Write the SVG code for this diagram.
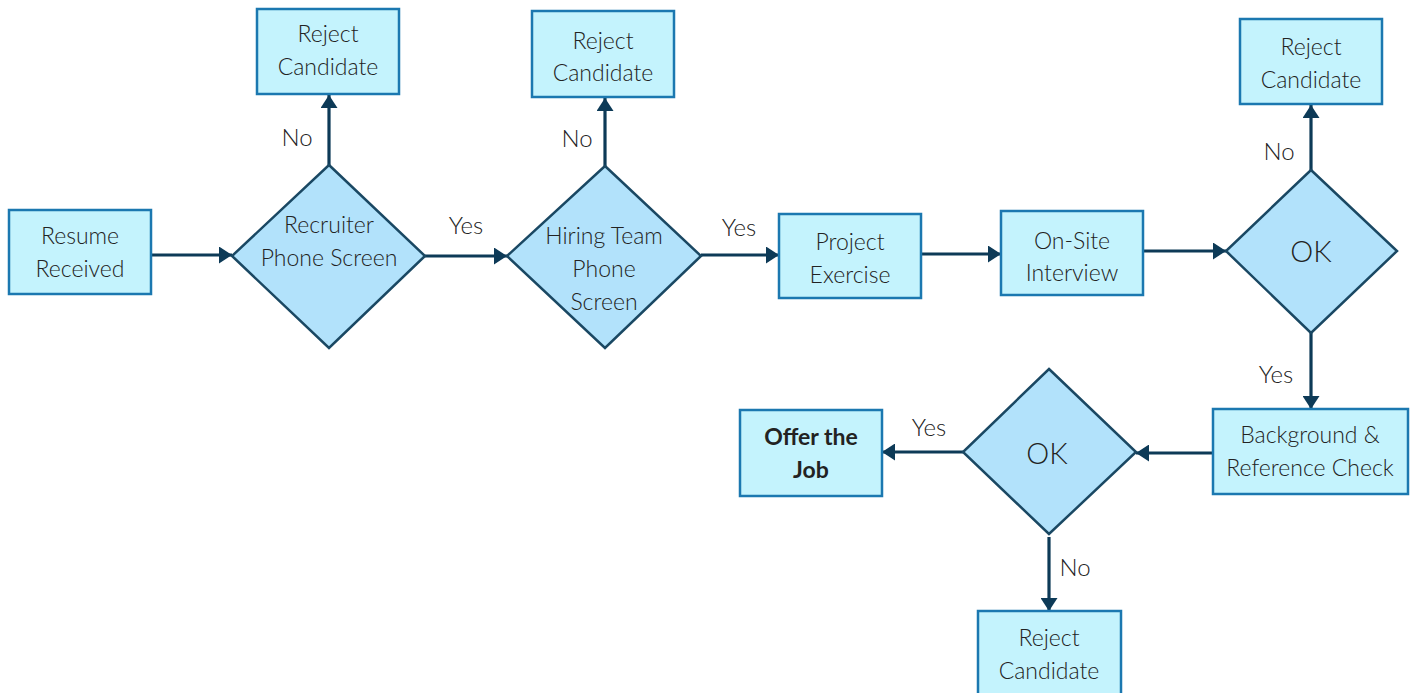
<svg xmlns="http://www.w3.org/2000/svg" width="1410" height="693" viewBox="0 0 1410 693">
  <defs>
    <marker id="arrow" viewBox="0 0 13 17" refX="13" refY="8.5" markerWidth="13" markerHeight="17" markerUnits="userSpaceOnUse" orient="auto">
      <path d="M0,0 L13,8.5 L0,17 Z" fill="#0d3a57"/>
    </marker>
    <style>
      .box { fill: #c4f3fd; stroke: #1b78b0; stroke-width: 2.5; }
      .dia { fill: #b2e2fb; stroke: #1a4863; stroke-width: 2.5; }
      .t { font-family: Lato, "Open Sans", sans-serif; font-weight: 300; font-size: 23px; fill: #222; text-anchor: middle; dominant-baseline: central; }
      .big { font-size: 29px; }
      .bold { font-weight: bold; }
      .lbl { font-family: Lato, "Open Sans", sans-serif; font-weight: 300; font-size: 24px; fill: #222; text-anchor: middle; dominant-baseline: central; }
      .edge { stroke: #0d3a57; stroke-width: 3.2; fill: none; marker-end: url(#arrow); }
    </style>
  </defs>

  <!-- connectors -->
  <g id="connectors">
    <line class="edge" x1="151" y1="255" x2="232" y2="255"/>
    <line class="edge" x1="329" y1="165" x2="329" y2="95"/>
    <line class="edge" x1="425" y1="256" x2="507" y2="256"/>
    <line class="edge" x1="605" y1="166" x2="605" y2="98"/>
    <line class="edge" x1="701" y1="255" x2="779" y2="255"/>
    <line class="edge" x1="921" y1="254" x2="1001" y2="254"/>
    <line class="edge" x1="1143" y1="251" x2="1226" y2="251"/>
    <line class="edge" x1="1311" y1="170" x2="1311" y2="105"/>
    <line class="edge" x1="1311" y1="333" x2="1311" y2="409"/>
    <line class="edge" x1="1213" y1="453" x2="1136" y2="453"/>
    <line class="edge" x1="963" y1="452" x2="882" y2="452"/>
    <line class="edge" x1="1049" y1="537" x2="1049" y2="611"/>
    <text class="lbl" x="297" y="136">No</text>
    <text class="lbl" x="466" y="224">Yes</text>
    <text class="lbl" x="577" y="137">No</text>
    <text class="lbl" x="739" y="226">Yes</text>
    <text class="lbl" x="1279" y="150">No</text>
    <text class="lbl" x="1276" y="373">Yes</text>
    <text class="lbl" x="929" y="426">Yes</text>
    <text class="lbl" x="1075" y="566">No</text>
  </g>

  <g id="resume">
    <rect class="box" x="9" y="210" width="142" height="84"/>
    <text class="t" x="80" y="235">Resume</text>
    <text class="t" x="80" y="268">Received</text>
  </g>

  <g id="recruiter-screen">
    <polygon class="dia" points="329,165 425,256 329,348 232,256"/>
    <text class="t" x="329" y="224">Recruiter</text>
    <text class="t" x="329" y="257">Phone Screen</text>
  </g>

  <g id="reject-1">
    <rect class="box" x="257" y="9" width="142" height="85"/>
    <text class="t" x="328" y="33">Reject</text>
    <text class="t" x="328" y="66">Candidate</text>
  </g>

  <g id="hiring-screen">
    <polygon class="dia" points="605,166 701,256 605,348 507,256"/>
    <text class="t" x="604" y="235">Hiring Team</text>
    <text class="t" x="604" y="268">Phone</text>
    <text class="t" x="604" y="301">Screen</text>
  </g>

  <g id="reject-2">
    <rect class="box" x="532" y="11" width="142" height="86"/>
    <text class="t" x="603" y="40">Reject</text>
    <text class="t" x="603" y="72">Candidate</text>
  </g>

  <g id="project">
    <rect class="box" x="779" y="214" width="142" height="84"/>
    <text class="t" x="850" y="241">Project</text>
    <text class="t" x="850" y="274">Exercise</text>
  </g>

  <g id="onsite">
    <rect class="box" x="1001" y="211" width="142" height="84"/>
    <text class="t" x="1072" y="240">On-Site</text>
    <text class="t" x="1072" y="272">Interview</text>
  </g>

  <g id="ok-1">
    <polygon class="dia" points="1311,170 1397,251 1311,333 1226,251"/>
    <text class="t big" x="1311" y="250">OK</text>
  </g>

  <g id="reject-3">
    <rect class="box" x="1240" y="19" width="142" height="85"/>
    <text class="t" x="1311" y="46">Reject</text>
    <text class="t" x="1311" y="79">Candidate</text>
  </g>

  <g id="background-check">
    <rect class="box" x="1213" y="409" width="195" height="85"/>
    <text class="t" x="1310" y="434">Background &amp;</text>
    <text class="t" x="1310" y="467">Reference Check</text>
  </g>

  <g id="ok-2">
    <polygon class="dia" points="1049,369 1136,452 1049,534 963,452"/>
    <text class="t big" x="1047" y="452">OK</text>
  </g>

  <g id="offer">
    <rect class="box" x="740" y="410" width="142" height="86"/>
    <text class="t bold" x="811" y="436">Offer the</text>
    <text class="t bold" x="811" y="469">Job</text>
  </g>

  <g id="reject-4">
    <rect class="box" x="978" y="611" width="143" height="86"/>
    <text class="t" x="1049" y="637">Reject</text>
    <text class="t" x="1049" y="670">Candidate</text>
  </g>
</svg>
